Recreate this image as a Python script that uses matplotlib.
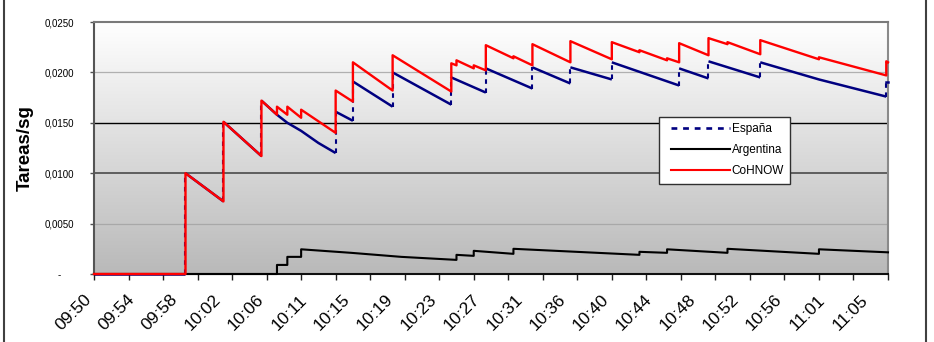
import numpy as np
import matplotlib.pyplot as plt
from matplotlib.lines import Line2D
from matplotlib.colors import LinearSegmentedColormap
from matplotlib.legend_handler import HandlerLine2D

plt.rcParams['font.family'] = ['Liberation Sans', 'DejaVu Sans']

# eje x = numero de muestra (categorias); etiqueta cada 25 muestras, marca cada 20
Etiquetas_x = ["09:50", "09:54", "09:58", "10:02", "10:06", "10:11", "10:15", "10:19",
               "10:23", "10:27", "10:31", "10:36", "10:40", "10:44", "10:48", "10:52",
               "10:56", "11:01", "11:05"]
Ultima_muestra = 460
Etiquetas_y = ["-", "0,0050", "0,0100", "0,0150", "0,0200", "0,0250"]
Valores_y = [0, 0.005, 0.010, 0.015, 0.020, 0.025]

# Tareas/sg (muestra, valor); saltos = dos puntos con la misma muestra
Espana_x = [0, 53, 53, 75, 75, 97, 97, 106, 112, 120, 130, 140, 140, 150, 150, 173, 173,
            207, 207, 227, 227, 254, 254, 276, 276, 300, 300, 339, 339, 356, 356, 386,
            386, 420, 459, 459, 460]
Espana_y = [0, 0, 0.0100, 0.0072, 0.0151, 0.0117, 0.0172, 0.0158, 0.0150, 0.0142, 0.0130,
            0.0120, 0.0161, 0.0152, 0.0191, 0.0166, 0.0200, 0.0168, 0.0195, 0.0180, 0.0204,
            0.0184, 0.0205, 0.0189, 0.0205, 0.0193, 0.0210, 0.0187, 0.0204, 0.0194, 0.0211,
            0.0195, 0.0210, 0.0193, 0.0176, 0.0190, 0.0190]

Argentina_x = [0, 106, 106, 112, 112, 120, 120, 149, 178, 210, 210, 220, 220, 243, 243,
               316, 316, 332, 332, 367, 367, 420, 420, 460]
Argentina_y = [0, 0, 0.0009, 0.0009, 0.0017, 0.0017, 0.00245, 0.0021, 0.0017, 0.0014,
               0.0019, 0.0018, 0.0023, 0.0020, 0.0025, 0.0019, 0.0022, 0.0021, 0.00245,
               0.0021, 0.0025, 0.0020, 0.00245, 0.00215]

CoHNOW_x = [0, 53, 53, 75, 75, 97, 97, 106, 106, 112, 112, 120, 120, 140, 140, 150, 150,
            173, 173, 207, 207, 210, 210, 220, 220, 227, 227, 243, 243, 254, 254, 276, 276,
            300, 300, 316, 316, 332, 332, 339, 339, 356, 356, 367, 367, 386, 386, 420, 420,
            459, 459, 460]
CoHNOW_y = [0, 0, 0.0100, 0.0072, 0.0151, 0.0117, 0.0172, 0.0158, 0.0166, 0.0158, 0.0166,
            0.0155, 0.0163, 0.0140, 0.0182, 0.0171, 0.0210, 0.0182, 0.0217, 0.0181, 0.0209,
            0.0207, 0.0212, 0.0204, 0.0207, 0.0202, 0.0227, 0.0214, 0.0216, 0.0207, 0.0228,
            0.0210, 0.0231, 0.0213, 0.0230, 0.0220, 0.0222, 0.0212, 0.0214, 0.0210, 0.0229,
            0.0217, 0.0234, 0.0228, 0.0230, 0.0218, 0.0232, 0.0213, 0.0215, 0.0197, 0.0211,
            0.0210]

AZUL = '#000080'
ROJO = '#ff0000'
GUIONES = (0, (2.2, 2.2))

fig = plt.figure(figsize=(9.34, 3.42), dpi=100)
ax = fig.add_axes([94 / 934, 1 - 274 / 342, 794 / 934, 252 / 342])

# fondo degradado blanco -> gris
fondo = LinearSegmentedColormap.from_list('fondo', ['#b9b9b9', '#ffffff'])
ax.imshow(np.linspace(0, 1, 256).reshape(-1, 1), cmap=fondo, origin='lower', aspect='auto',
          extent=[0, 1, 0, 1], transform=ax.transAxes, zorder=0)

# lineas de division
for v, c, lw in [(0.005, '#a8a8a8', 0.9), (0.010, '#4a4a4a', 1.2), (0.015, '#000000', 1.0),
                 (0.020, '#b0b0b0', 0.9)]:
    ax.axhline(v, color=c, lw=lw, zorder=1)

# España: tramos continuos solidos, saltos verticales a guiones
inicio = 0
for k in range(1, len(Espana_x)):
    if Espana_x[k] == Espana_x[k - 1]:
        ax.plot(Espana_x[inicio:k], Espana_y[inicio:k], color=AZUL, lw=1.8, zorder=3,
                clip_on=False, solid_capstyle='butt')
        ax.plot(Espana_x[k - 1:k + 1], Espana_y[k - 1:k + 1], color=AZUL, lw=1.5,
                linestyle=GUIONES, zorder=3, clip_on=False)
        inicio = k
ax.plot(Espana_x[inicio:], Espana_y[inicio:], color=AZUL, lw=1.8, zorder=3, clip_on=False)

ax.plot(Argentina_x, Argentina_y, color='black', lw=1.5, zorder=4, clip_on=False)
ax.plot(CoHNOW_x, CoHNOW_y, color=ROJO, lw=1.7, zorder=5, clip_on=False)

ax.set_xlim(0, Ultima_muestra)
ax.set_ylim(0, 0.025)

ax.xaxis.remove_overlapping_locs = False
ax.set_xticks(np.arange(0, Ultima_muestra + 1, 20))
ax.set_xticklabels([])
ax.set_xticks(np.arange(len(Etiquetas_x)) * 25, minor=True)
ax.set_xticklabels(Etiquetas_x, minor=True, rotation=45, ha='right', fontsize=12.5)
ax.tick_params(axis='x', which='major', length=4, width=1, color='#202020', direction='out')
ax.tick_params(axis='x', which='minor', length=0, pad=13)

ax.set_yticks(Valores_y)
ax.set_yticklabels([e if e != "-" else "-     " for e in Etiquetas_y], fontsize=7)
ax.tick_params(axis='y', length=3, width=1, color='#505050', pad=11)

ax.spines['left'].set_color('#555555')
ax.spines['left'].set_linewidth(1.5)
ax.spines['bottom'].set_color('#101010')
ax.spines['bottom'].set_linewidth(1.5)
ax.spines['top'].set_color('#7a7a7a')
ax.spines['top'].set_linewidth(1.5)
ax.spines['right'].set_color('#8a8a8a')
ax.spines['right'].set_linewidth(1.5)

fig.text(25 / 934, 1 - 148 / 342, 'Tareas/sg', rotation=90, fontsize=13.5, fontweight='bold',
         ha='center', va='center')

# leyenda
manejadores = [Line2D([], [], color=AZUL, lw=1.9, linestyle=GUIONES),
               Line2D([], [], color='black', lw=1.5),
               Line2D([], [], color=ROJO, lw=1.5)]
leg = ax.legend(manejadores, ['España', 'Argentina', 'CoHNOW'], loc='upper left',
                bbox_to_anchor=((659 - 94) / 794, (274 - 117) / 252), borderaxespad=0,
                fontsize=8.5, handlelength=5.5, handletextpad=0.1, borderpad=0.55,
                labelspacing=0.75, fancybox=False, framealpha=1,
                handler_map={Line2D: HandlerLine2D(xpad=0.5)})
leg.get_frame().set_edgecolor('#303030')
leg.get_frame().set_linewidth(1.0)
leg.set_zorder(10)

# marco de la figura
for xb in (3.5, 925.5):
    fig.add_artist(Line2D([xb / 934] * 2, [0, 1], transform=fig.transFigure,
                          color='#404040', lw=1.5))

fig.savefig('out.png', dpi=100)
